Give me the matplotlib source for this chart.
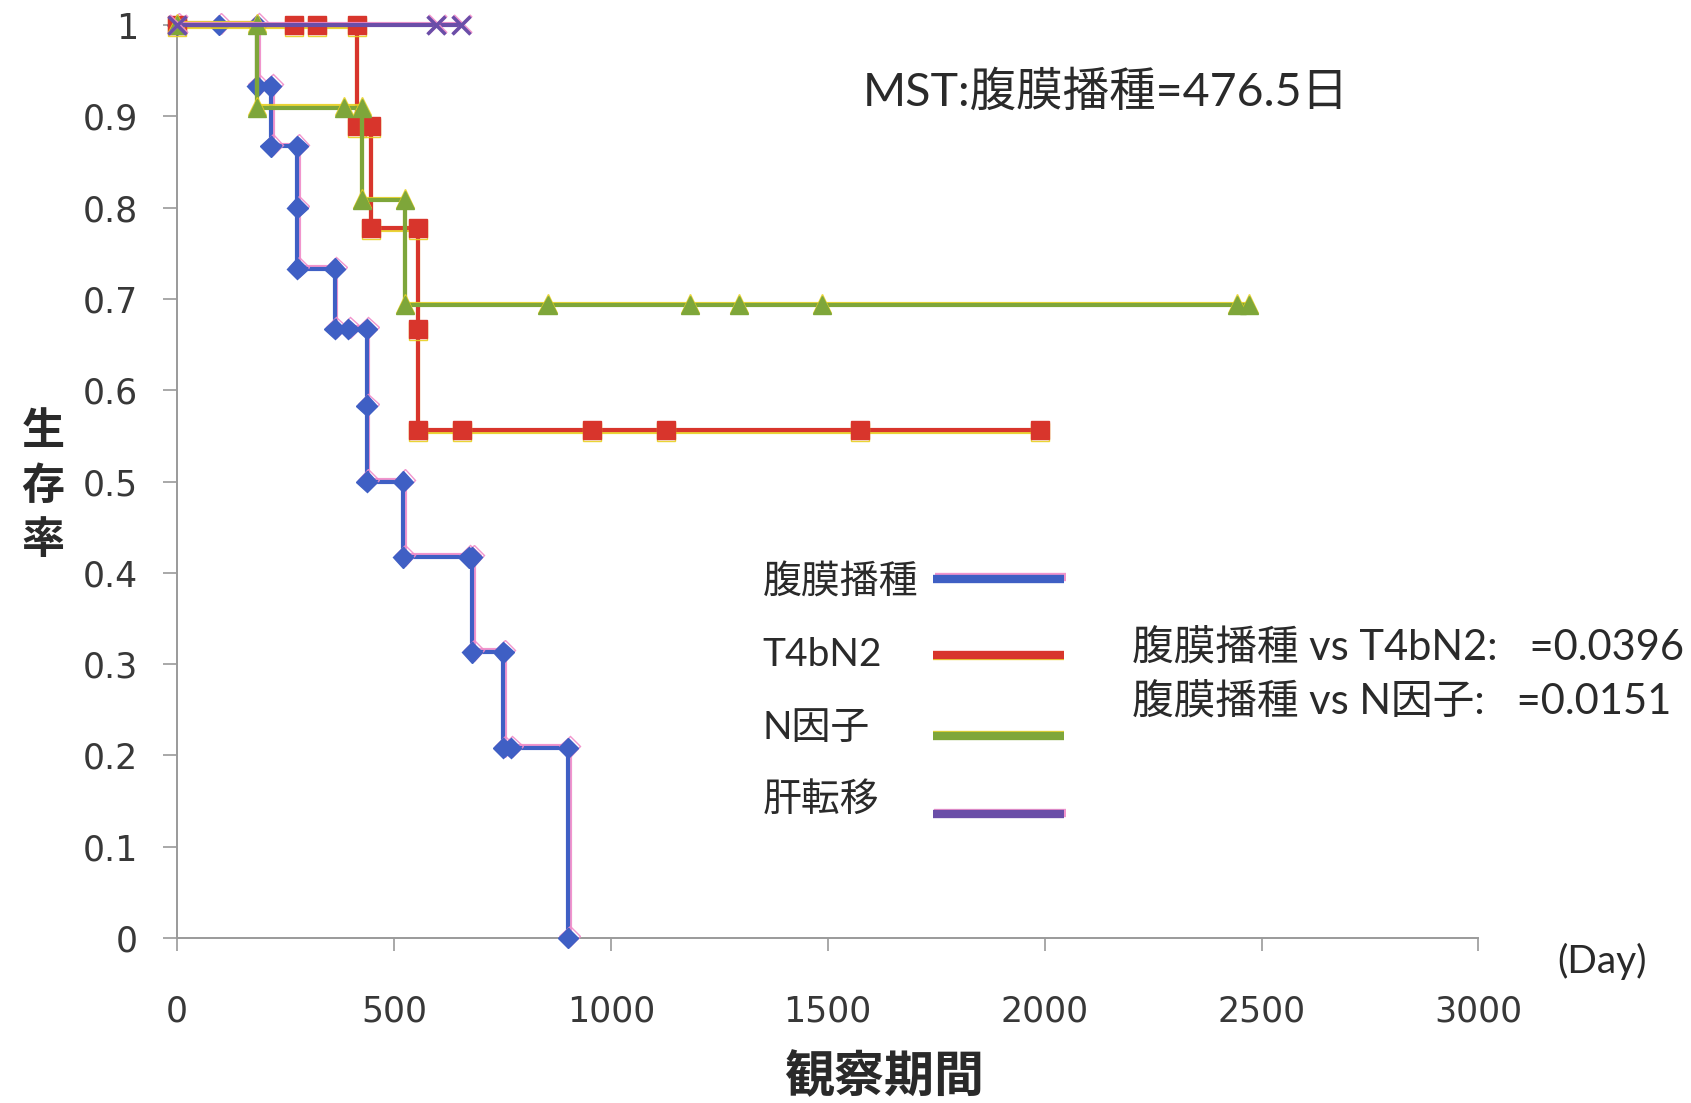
import matplotlib
matplotlib.use("Agg")
import matplotlib.pyplot as plt
import matplotlib.patheffects as pe
from matplotlib.lines import Line2D

# Kaplan-Meier step vertices (days, survival rate)
peritoneal_days = [0, 97, 184, 184, 216, 216, 277, 277, 277, 363, 363, 395, 437, 437, 437,
                   521, 521, 672, 680, 680, 752, 752, 769, 901, 901]
peritoneal_surv = [1.0, 1.0, 1.0, 0.933, 0.933, 0.867, 0.867, 0.800, 0.733, 0.733, 0.667, 0.667,
                   0.667, 0.583, 0.500, 0.500, 0.417, 0.417, 0.417, 0.313, 0.313, 0.208, 0.208,
                   0.208, 0.0]

t4bn2_days = [0, 270, 323, 415, 415, 447, 447, 555, 555, 555, 656, 956, 1127, 1574, 1989]
t4bn2_surv = [1.0, 1.0, 1.0, 1.0, 0.889, 0.889, 0.778, 0.778, 0.667, 0.556, 0.556, 0.556,
              0.556, 0.556, 0.556]

nfactor_days = [0, 184, 184, 385, 427, 427, 525, 525, 854, 1182, 1296, 1487, 2443, 2471]
nfactor_surv = [1.0, 1.0, 0.909, 0.909, 0.909, 0.808, 0.808, 0.693, 0.693, 0.693, 0.693,
                0.693, 0.693, 0.693]

liver_days = [0, 597, 654]
liver_surv = [1.0, 1.0, 1.0]

series_names = ["腹膜播種", "T4bN2", "N因子", "肝転移"]
x_ticks = [0, 500, 1000, 1500, 2000, 2500, 3000]
y_ticks = [0, 0.1, 0.2, 0.3, 0.4, 0.5, 0.6, 0.7, 0.8, 0.9, 1]
y_tick_labels = ["0", "0.1", "0.2", "0.3", "0.4", "0.5", "0.6", "0.7", "0.8", "0.9", "1"]
mst_text = "MST:腹膜播種=476.5日"
pvalue_lines = ["腹膜播種 vs T4bN2:   =0.0396", "腹膜播種 vs N因子:   =0.0151"]

CJK = "Noto Sans CJK JP"
LATIN = "Lato"
TEXT = "#2a2a2a"

fig = plt.figure(figsize=(16.91, 11.03), dpi=100)
ax = fig.add_axes([0.1047, 0.1496, 0.7696, 0.8277])

blue, pink = "#3f5fc4", "#f08ac8"
red, yellow = "#d8352c", "#e8d020"
green = "#7ea63a"
purple = "#6a4ea8"


def fx(color, offset):
    return [pe.SimpleLineShadow(offset=offset, shadow_color=color, alpha=0.9), pe.Normal()]


styles = [
    dict(color=blue, marker="D", ms=10.5, effects=fx(pink, (1.3, 1.3))),
    dict(color=red, marker="s", ms=13, effects=fx(yellow, (0, -1.3))),
    dict(color=green, marker="^", ms=13, effects=fx(yellow, (0, 1.3))),
    dict(color=purple, marker="x", ms=13, effects=fx(pink, (1.0, 1.0))),
]
data = [(peritoneal_days, peritoneal_surv), (t4bn2_days, t4bn2_surv),
        (nfactor_days, nfactor_surv), (liver_days, liver_surv)]

for (xs, ys), st, z in zip(data, styles, [3, 4, 5, 6]):
    ax.plot(xs, ys, color=st["color"], lw=3.0, marker=st["marker"], ms=st["ms"],
            mec=st["color"], mfc=st["color"], mew=2.5 if st["marker"] == "x" else 1,
            clip_on=False, zorder=z, path_effects=st["effects"])

ax.set_xlim(0, 3000)
ax.set_ylim(0, 1)
ax.set_xticks(x_ticks)
ax.set_xticklabels([str(t) for t in x_ticks])
ax.set_yticks(y_ticks)
ax.set_yticklabels(y_tick_labels)

for side in ["top", "right"]:
    ax.spines[side].set_visible(False)
for side in ["left", "bottom"]:
    ax.spines[side].set_color("#9a9a9a")
    ax.spines[side].set_linewidth(1.4)

ax.tick_params(axis="y", direction="out", length=10, width=1.2, color="#9a9a9a",
               pad=18, labelsize=25, labelcolor="#383838")
ax.tick_params(axis="x", direction="out", length=9, width=1.2, color="#9a9a9a",
               pad=32, labelsize=25, labelcolor="#383838")
for lab in ax.get_xticklabels() + ax.get_yticklabels():
    lab.set_family("DejaVu Sans")

# legend: left-aligned labels with line samples in a column to their right
legend_text_y = [0.4721, 0.4066, 0.3402, 0.2747]
legend_line_y = [0.4751, 0.4066, 0.3324, 0.2620]
for name, st, ty, ly in zip(series_names, styles, legend_text_y, legend_line_y):
    fig.text(0.4509, ty, name, family=[LATIN, CJK], fontsize=28, color=TEXT,
             va="center", ha="left")
    fig.add_artist(Line2D([0.5517, 0.6295], [ly, ly], transform=fig.transFigure,
                          color=st["color"], lw=6, solid_capstyle="butt",
                          path_effects=st["effects"]))

fig.text(0.5103, 0.9168, mst_text, family=[LATIN, CJK], fontsize=33.5,
         color=TEXT, va="center", ha="left")
fig.text(0.6695, 0.4134, pvalue_lines[0], family=[LATIN, CJK], fontsize=30,
         color=TEXT, va="center", ha="left")
fig.text(0.6695, 0.3645, pvalue_lines[1], family=[LATIN, CJK], fontsize=30,
         color=TEXT, va="center", ha="left")

fig.text(0.921, 0.128, "(Day)", family=[LATIN, CJK], fontsize=28,
         color=TEXT, va="center", ha="left")
fig.text(0.523, 0.0227, "観察期間", family=[CJK], fontsize=36, fontweight="bold",
         color=TEXT, va="center", ha="center")
fig.text(0.0254, 0.5594, "生\n存\n率", family=[CJK], fontsize=31, fontweight="bold",
         color=TEXT, va="center", ha="center", linespacing=1.3)

fig.savefig("out.png", dpi=100, facecolor="white")
